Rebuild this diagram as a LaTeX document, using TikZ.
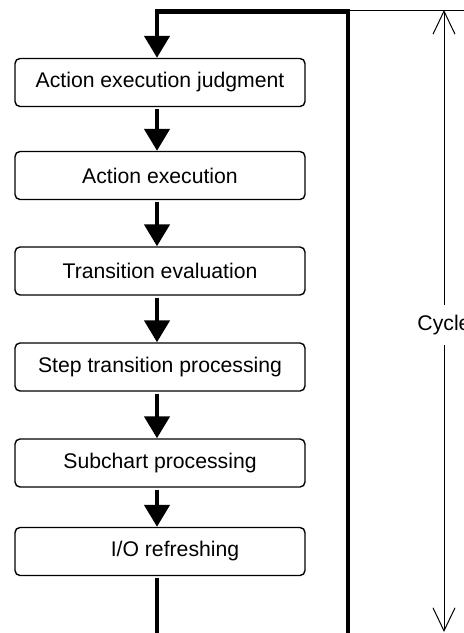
\documentclass[tikz,border=0pt]{standalone}
\usepackage{fontspec}
\setmainfont{Liberation Sans}
\usetikzlibrary{arrows.meta}
\begin{document}
\begin{tikzpicture}[x=1pt,y=-1pt,
  box/.style={draw, line width=1.4pt, rounded corners=5pt, minimum width=290pt,
    minimum height=48pt, inner sep=0pt, font=\fontsize{21.2}{25}\selectfont},
  flowline/.style={line width=4.5pt},
  flow/.style={flowline, -{Triangle[length=22pt,width=25pt]}},
  thinline/.style={line width=1pt},
  dimarrow/.style={thinline, -{Straight Barb[length=23pt,width=22pt]}},
  lbl/.style={font=\fontsize{21.2}{25}\selectfont, inner xsep=0pt, inner ysep=10pt}]
\useasboundingbox (0,0) rectangle (464,633);
\coordinate (col) at (157,0);
\node[box] (b1) at (160,82.5) {Action execution judgment};
\node[box] (b2) at (160,175.5) {Action execution};
\node[box] (b3) at (160,271) {Transition evaluation};
\node[box] (b4) at (160,367) {Step transition processing};
\node[box] (b5) at (160,463) {Subchart processing};
\node[box] (b6) at (160,551.5) {\hspace*{30pt}I/O refreshing};
\draw[flow, shorten <=2pt] (b1.south -| col) -- (b2.north -| col);
\draw[flow, shorten <=2pt] (b2.south -| col) -- (b3.north -| col);
\draw[flow, shorten <=2pt] (b3.south -| col) -- (b4.north -| col);
\draw[flow, shorten <=2pt] (b4.south -| col) -- (b5.north -| col);
\draw[flow, shorten <=2pt] (b5.south -| col) -- (b6.north -| col);
\coordinate (rb) at (348,640);
\coordinate (rt) at (348,11.5);
\coordinate (lt) at (157,11.5);
\draw[flow] (rb) -- (rt) -- (lt) -- (b1.north -| col);
\draw[flowline, shorten <=2pt] (b6.south -| col) -- (col |- rb);
\coordinate (tl) at (348,10.5);
\coordinate (tr) at (470,10.5);
\draw[thinline] (tl) -- (tr);
\node[lbl] (cyc) at (444,325) {Cycle};
\coordinate (ctop) at (444,10);
\coordinate (cbot) at (444,632);
\draw[dimarrow] (cyc.north) -- (ctop);
\draw[dimarrow] (cyc.south) -- (cbot);
\end{tikzpicture}
\end{document}
